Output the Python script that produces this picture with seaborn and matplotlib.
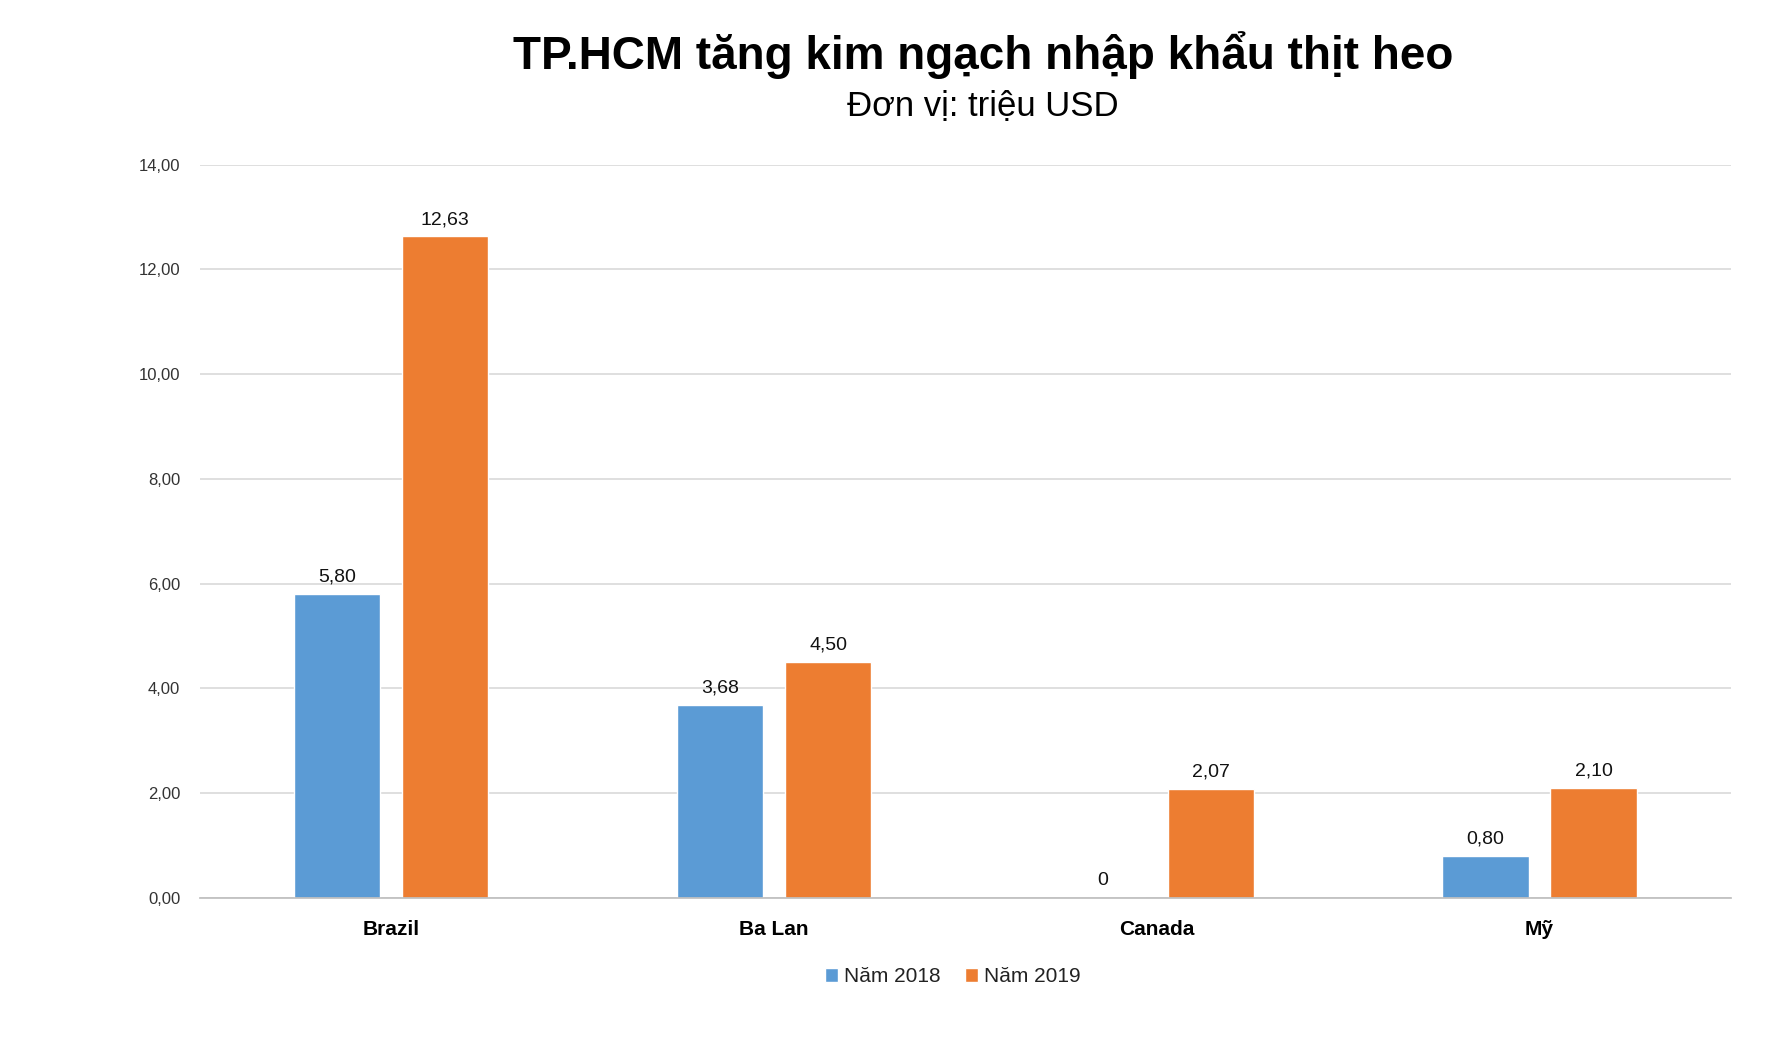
import matplotlib
matplotlib.use("Agg")
import matplotlib.pyplot as plt
import seaborn as sns
import pandas as pd

countries = ["Brazil", "Ba Lan", "Canada", "Mỹ"]
v2018 = [5.80, 3.68, 0.0, 0.80]
v2019 = [12.63, 4.50, 2.07, 2.10]
series = ["Năm 2018", "Năm 2019"]
yticks = [0, 2, 4, 6, 8, 10, 12, 14]

df = pd.DataFrame({
    "country": countries * 2,
    "value": v2018 + v2019,
    "series": [series[0]] * 4 + [series[1]] * 4,
})

sns.set_theme(style="white")
plt.rcParams['font.family'] = ['Liberation Sans', 'DejaVu Sans']

fig = plt.figure(figsize=(17.68, 10.56), dpi=100)
ax = fig.add_axes([0.113, 0.15, 0.866, 0.694])
sns.barplot(data=df, x="country", y="value", hue="series", saturation=1,
            palette=["#5B9BD5", "#ED7D31"], width=0.565, ax=ax, legend=True)

for cont in ax.containers:
    for p in cont.patches:
        c = p.get_x() + p.get_width() / 2
        p.set_width(0.226)
        p.set_x(c - 0.113)
    labels = ["0" if b.get_height() == 0 else f"{b.get_height():.2f}".replace(".", ",") for b in cont.patches]
    ax.bar_label(cont, labels=labels, padding=6, fontsize=14, color="#111111")

ax.set_xlim(-0.5, 3.5)
ax.set_ylim(0, 14)
ax.set_yticks(yticks)
ax.set_yticklabels([f"{t:.2f}".replace(".", ",") for t in yticks], fontsize=12, color="#333333")
ax.yaxis.grid(True, color="#d9d9d9", linewidth=1.2)
ax.set_axisbelow(True)
for s in ["left", "right", "top"]:
    ax.spines[s].set_visible(False)
ax.spines["bottom"].set_color("#bfbfbf")
ax.tick_params(axis="x", labelsize=15, pad=10, labelcolor="black")
for lab in ax.get_xticklabels():
    lab.set_fontweight("bold")
ax.tick_params(axis="y", length=0, pad=14)
ax.set_xlabel("")
ax.set_ylabel("")

leg = ax.legend(loc="center", bbox_to_anchor=(0.539, 0.075), bbox_transform=fig.transFigure,
          ncol=2, frameon=False, fontsize=15, handlelength=0.6, handleheight=0.6,
          handletextpad=0.3, columnspacing=1.2)
for t in leg.get_texts():
    t.set_color("#222222")

fig.text(0.556, 0.948, "TP.HCM tăng kim ngạch nhập khẩu thịt heo", ha="center", va="center",
         fontsize=33, fontweight="bold", color="black")
fig.text(0.556, 0.899, "Đơn vị: triệu USD", ha="center", va="center", fontsize=25, color="black")

fig.savefig("out.png", dpi=100, facecolor="white")
